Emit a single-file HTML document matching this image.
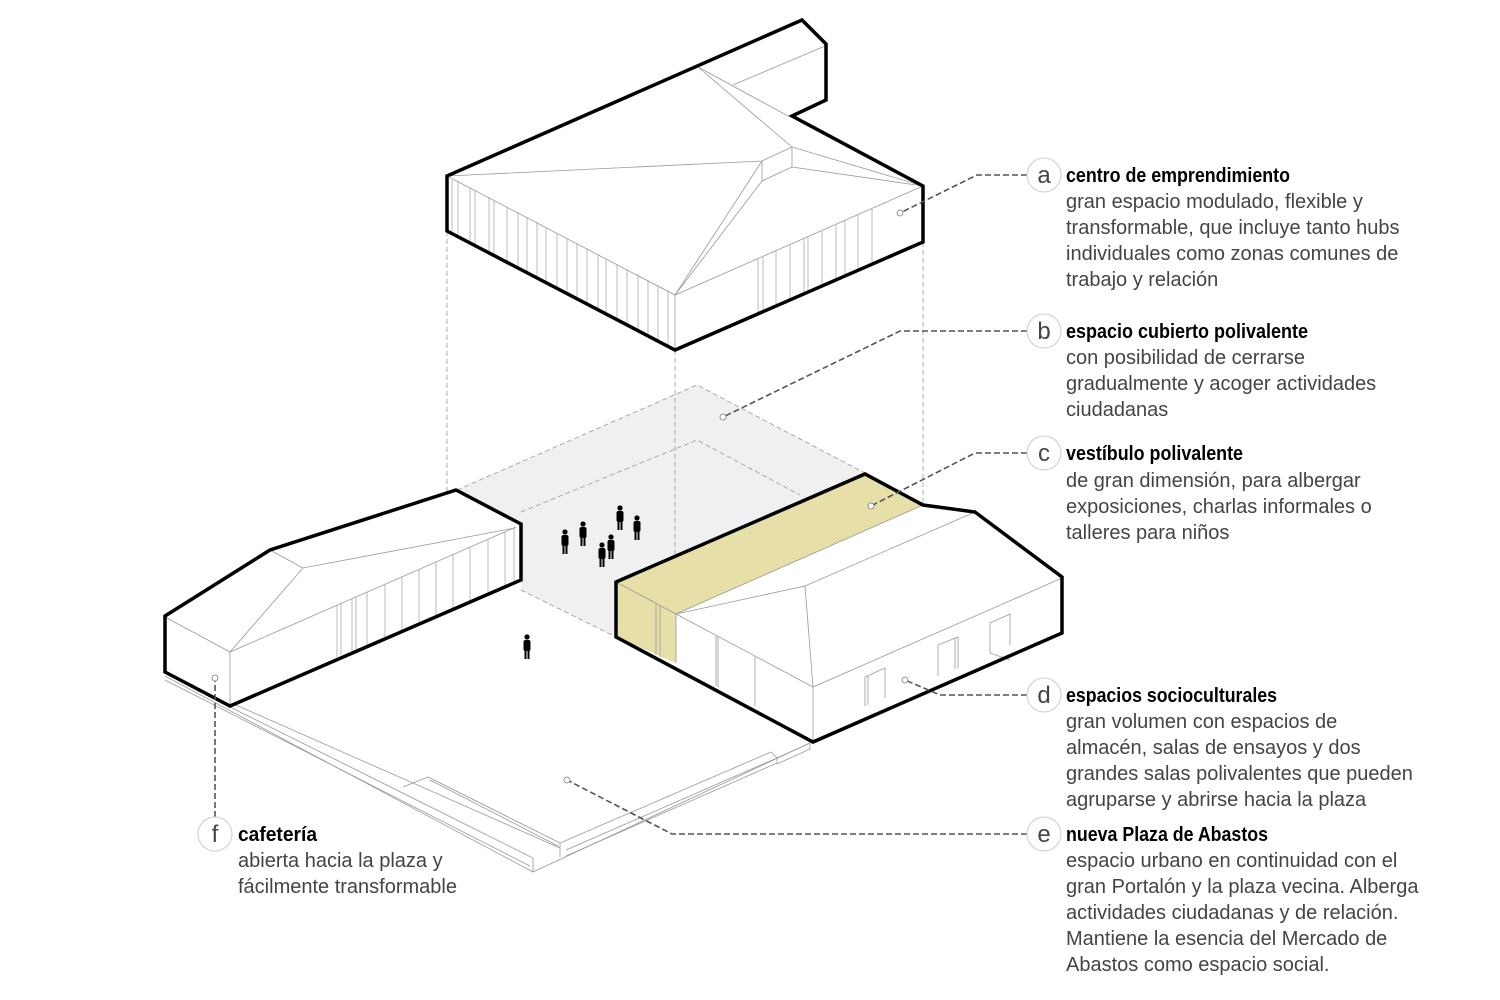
<!DOCTYPE html>
<html><head><meta charset="utf-8"><style>
html,body{margin:0;padding:0;background:#fff;}
svg{display:block}
.t{font-family:"Liberation Sans",sans-serif;font-weight:bold;font-size:20px;fill:#000}
.b{font-family:"Liberation Sans",sans-serif;font-size:20px;fill:#444}
.l{font-family:"Liberation Sans",sans-serif;font-size:24px;fill:#444}
</style></head><body>
<svg width="1500" height="1000" viewBox="0 0 1500 1000" xmlns="http://www.w3.org/2000/svg">
<polygon points="457,490 697,385 865,473 616,582 616,637 521,590 521,524" fill="#f0f0f0"/>
<g fill="none" stroke="#999" stroke-width="0.8" stroke-dasharray="5,3">
<polyline points="457,490 697,385 865,473"/>
<polyline points="521,590 616,637"/>
<polyline points="521,512 697,440 800,495"/>
<line x1="447" y1="231" x2="447" y2="492"/>
<line x1="675" y1="350" x2="675" y2="614"/>
<line x1="923" y1="242" x2="923" y2="505"/>
</g>
<g fill="none" stroke="#999" stroke-width="0.8">
<polyline points="165,676 533,872 810,743"/>
<polyline points="165,680 530,866"/>
<polyline points="230,707 533,858 533,872"/>
<polyline points="236,705 560,848"/>
<polyline points="403,787 428,777 560,843 560,857"/>
<polyline points="430,780 558,846"/>
<polyline points="560,843 771,752 777,758 566,850"/>
<polyline points="566,856 777,763 777,758"/>
<polyline points="777,758 810,743 810,749 777,764"/>
</g>
<polygon points="447,176 802,20 826,44 826,100 792,116 923,186 923,242 675,350 447,231" fill="#fff"/>
<g fill="none" stroke="#999" stroke-width="0.8">
<polyline points="447,176 675,295 923,186"/>
<line x1="675" y1="295" x2="675" y2="350"/>
<polyline points="447,176 762,161 792,147 923,186"/>
<polyline points="762,161 762,181 792,167 792,147"/>
<polyline points="675,295 762,161"/><polyline points="675,295 762,181"/>
<polyline points="792,167 923,186"/>
<polyline points="698,67 792,147"/><polyline points="698,67 788,116"/>
<polyline points="733,85 825,46"/>
</g>
<g stroke="#aaa" stroke-width="0.8">
<line x1="452" y1="180" x2="452" y2="234"/><line x1="458" y1="181" x2="458" y2="237"/>
<line x1="470" y1="187" x2="470" y2="243"/><line x1="475" y1="190" x2="475" y2="246"/>
<line x1="489" y1="197" x2="489" y2="253"/><line x1="494" y1="200" x2="494" y2="256"/>
<line x1="507" y1="207" x2="507" y2="262"/><line x1="518" y1="212" x2="518" y2="268"/>
<line x1="527" y1="217" x2="527" y2="273"/><line x1="537" y1="222" x2="537" y2="278"/>
<line x1="546" y1="227" x2="546" y2="283"/><line x1="557" y1="233" x2="557" y2="289"/>
<line x1="567" y1="238" x2="567" y2="294"/><line x1="577" y1="243" x2="577" y2="299"/>
<line x1="587" y1="248" x2="587" y2="304"/><line x1="598" y1="254" x2="598" y2="310"/>
<line x1="606" y1="258" x2="606" y2="314"/><line x1="617" y1="264" x2="617" y2="320"/>
<line x1="627" y1="269" x2="627" y2="325"/><line x1="638" y1="274" x2="638" y2="330"/>
<line x1="648" y1="280" x2="648" y2="336"/><line x1="658" y1="285" x2="658" y2="341"/>
<line x1="668" y1="290" x2="668" y2="346"/>
<line x1="758" y1="258" x2="758" y2="313"/><line x1="763" y1="256" x2="763" y2="311"/>
<line x1="776" y1="251" x2="776" y2="305"/><line x1="790" y1="245" x2="790" y2="299"/>
<line x1="804" y1="239" x2="804" y2="293"/><line x1="808" y1="237" x2="808" y2="291"/>
<line x1="822" y1="231" x2="822" y2="285"/><line x1="836" y1="225" x2="836" y2="279"/>
<line x1="845" y1="221" x2="845" y2="275"/><line x1="858" y1="215" x2="858" y2="269"/>
<line x1="872" y1="209" x2="872" y2="263"/>
</g>
<polygon points="447,176 802,20 826,44 826,100 792,116 923,186 923,242 675,350 447,231" fill="none" stroke="#000" stroke-width="3.5"/>
<polygon points="165,616 270,550 456,490 521,524 521,580 230,706 165,672" fill="#fff"/>
<g fill="none" stroke="#999" stroke-width="0.8">
<polyline points="165,617 230,652 516,527"/>
<line x1="230" y1="652" x2="230" y2="706"/>
<polyline points="270,550 303,568 515,528"/>
<line x1="303" y1="568" x2="230" y2="652"/>
</g>
<g stroke="#aaa" stroke-width="0.8">
<line x1="337" y1="605" x2="337" y2="657"/><line x1="341" y1="603" x2="341" y2="655"/>
<line x1="352" y1="598" x2="352" y2="651"/><line x1="356" y1="597" x2="356" y2="650"/>
<line x1="367" y1="592" x2="367" y2="646"/><line x1="385" y1="584" x2="385" y2="638"/>
<line x1="402" y1="577" x2="402" y2="630"/><line x1="419" y1="569" x2="419" y2="623"/>
<line x1="436" y1="562" x2="436" y2="615"/><line x1="453" y1="555" x2="453" y2="608"/>
<line x1="470" y1="547" x2="470" y2="600"/><line x1="488" y1="539" x2="488" y2="592"/>
<line x1="505" y1="532" x2="505" y2="585"/><line x1="514" y1="528" x2="514" y2="581"/>
</g>
<polygon points="165,616 270,550 456,490 521,524 521,580 230,706 165,672" fill="none" stroke="#000" stroke-width="3.5"/>
<polygon points="616,582 865,474 923,505 975,512 1062,577 1062,633 813,742 616,637" fill="#fff"/>
<polygon points="616,582 865,474 923,505 676,614" fill="#e6dfa8"/>
<polygon points="616,582 676,614 676,663 616,637" fill="#e6dfa8"/>
<g fill="none" stroke="#999" stroke-width="0.8">
<polyline points="616,582 676,614 813,687 1062,578"/>
<line x1="676" y1="614" x2="923" y2="505"/>
<line x1="676" y1="614" x2="676" y2="663"/>
<line x1="813" y1="687" x2="813" y2="742"/>
<polyline points="676,614 805,586 813,687"/>
<line x1="805" y1="586" x2="975" y2="512"/>
<line x1="656" y1="604" x2="656" y2="655"/><line x1="660" y1="606" x2="660" y2="657"/>
<line x1="716" y1="636" x2="716" y2="686"/><line x1="718" y1="637" x2="718" y2="687"/>
<line x1="755" y1="657" x2="755" y2="706"/>
<polyline points="865,706 865,677 885,668 885,698"/><line x1="868" y1="676" x2="868" y2="705"/>
<polyline points="938,676 938,645 958,637 958,668"/><line x1="955" y1="638" x2="955" y2="669"/>
<polyline points="990,653 990,623 1010,614 1010,645"/><line x1="990" y1="653" x2="1010" y2="660"/>
</g>
<polygon points="616,582 865,474 923,505 975,512 1062,577 1062,633 813,742 616,637" fill="none" stroke="#000" stroke-width="3.5"/>
<g fill="#000">
<g transform="translate(565,530)"><circle cx="0" cy="2" r="2.6"/><rect x="-3.5" y="5" width="7" height="11" rx="2"/><rect x="-2.5" y="15" width="2" height="9"/><rect x="0.5" y="15" width="2" height="9"/></g>
<g transform="translate(583,522)"><circle cx="0" cy="2" r="2.6"/><rect x="-3.5" y="5" width="7" height="11" rx="2"/><rect x="-2.5" y="15" width="2" height="9"/><rect x="0.5" y="15" width="2" height="9"/></g>
<g transform="translate(620,506)"><circle cx="0" cy="2" r="2.6"/><rect x="-3.5" y="5" width="7" height="11" rx="2"/><rect x="-2.5" y="15" width="2" height="9"/><rect x="0.5" y="15" width="2" height="9"/></g>
<g transform="translate(637,516)"><circle cx="0" cy="2" r="2.6"/><rect x="-3.5" y="5" width="7" height="11" rx="2"/><rect x="-2.5" y="15" width="2" height="9"/><rect x="0.5" y="15" width="2" height="9"/></g>
<g transform="translate(611,535)"><circle cx="0" cy="2" r="2.6"/><rect x="-3.5" y="5" width="7" height="11" rx="2"/><rect x="-2.5" y="15" width="2" height="9"/><rect x="0.5" y="15" width="2" height="9"/></g>
<g transform="translate(602,543)"><circle cx="0" cy="2" r="2.6"/><rect x="-3.5" y="5" width="7" height="11" rx="2"/><rect x="-2.5" y="15" width="2" height="9"/><rect x="0.5" y="15" width="2" height="9"/></g>
<g transform="translate(527,635)"><circle cx="0" cy="2" r="2.6"/><rect x="-3.5" y="5" width="7" height="11" rx="2"/><rect x="-2.5" y="15" width="2" height="9"/><rect x="0.5" y="15" width="2" height="9"/></g>
</g>
<g fill="none" stroke="#555" stroke-width="1.6" stroke-dasharray="6,3">
<polyline points="1027,175 977,175 900,213"/>
<polyline points="1027,331 900,331 723,417"/>
<polyline points="1027,453 975,453 871,506"/>
<polyline points="1027,695 940,695 905,680"/>
<polyline points="1027,834 672,834 567,780"/>
<polyline points="215,817 215,678"/>
</g>
<g fill="#fff" stroke="#777" stroke-width="0.8">
<circle cx="900" cy="213" r="3"/><circle cx="723" cy="417" r="3"/><circle cx="871" cy="506" r="3"/>
<circle cx="905" cy="680" r="3"/><circle cx="567" cy="780" r="3"/><circle cx="215" cy="678" r="3"/>
</g>
<g fill="#fff" stroke="#ccc" stroke-width="1">
<circle cx="1044" cy="175" r="17"/><circle cx="1044" cy="331" r="17"/><circle cx="1044" cy="453" r="17"/>
<circle cx="1044" cy="695" r="17"/><circle cx="1044" cy="834" r="17"/><circle cx="215" cy="834" r="17"/>
</g>
<g class="l" text-anchor="middle">
<text x="1044" y="183">a</text><text x="1044" y="339">b</text><text x="1044" y="461">c</text>
<text x="1044" y="703">d</text><text x="1044" y="842">e</text><text x="215" y="842">f</text>
</g>
<text class="t" x="1066" y="182" textLength="224" lengthAdjust="spacingAndGlyphs">centro de emprendimiento</text>
<text class="b" x="1066" y="208">gran espacio modulado, flexible y</text>
<text class="b" x="1066" y="234">transformable, que incluye tanto hubs</text>
<text class="b" x="1066" y="260">individuales como zonas comunes de</text>
<text class="b" x="1066" y="286">trabajo y relación</text>
<text class="t" x="1066" y="338" textLength="242" lengthAdjust="spacingAndGlyphs">espacio cubierto polivalente</text>
<text class="b" x="1066" y="364">con posibilidad de cerrarse</text>
<text class="b" x="1066" y="390">gradualmente  y acoger actividades</text>
<text class="b" x="1066" y="416">ciudadanas</text>
<text class="t" x="1066" y="460" textLength="177" lengthAdjust="spacingAndGlyphs">vestíbulo polivalente</text>
<text class="b" x="1066" y="487">de gran dimensión, para albergar</text>
<text class="b" x="1066" y="513">exposiciones, charlas informales o</text>
<text class="b" x="1066" y="539">talleres para niños</text>
<text class="t" x="1066" y="702" textLength="211" lengthAdjust="spacingAndGlyphs">espacios socioculturales</text>
<text class="b" x="1066" y="728">gran volumen con espacios de</text>
<text class="b" x="1066" y="754">almacén, salas de ensayos y dos</text>
<text class="b" x="1066" y="780">grandes salas polivalentes que pueden</text>
<text class="b" x="1066" y="806">agruparse y abrirse hacia la plaza</text>
<text class="t" x="1066" y="841" textLength="202" lengthAdjust="spacingAndGlyphs">nueva Plaza de Abastos</text>
<text class="b" x="1066" y="867">espacio urbano en continuidad con el</text>
<text class="b" x="1066" y="893">gran Portalón y la plaza vecina. Alberga</text>
<text class="b" x="1066" y="919">actividades ciudadanas y de relación.</text>
<text class="b" x="1066" y="945">Mantiene la esencia del Mercado de</text>
<text class="b" x="1066" y="971">Abastos como espacio social.</text>
<text class="t" x="238" y="841" textLength="79" lengthAdjust="spacingAndGlyphs">cafetería</text>
<text class="b" x="238" y="867">abierta hacia la plaza y</text>
<text class="b" x="238" y="893">fácilmente transformable</text>
</svg>
</body></html>
